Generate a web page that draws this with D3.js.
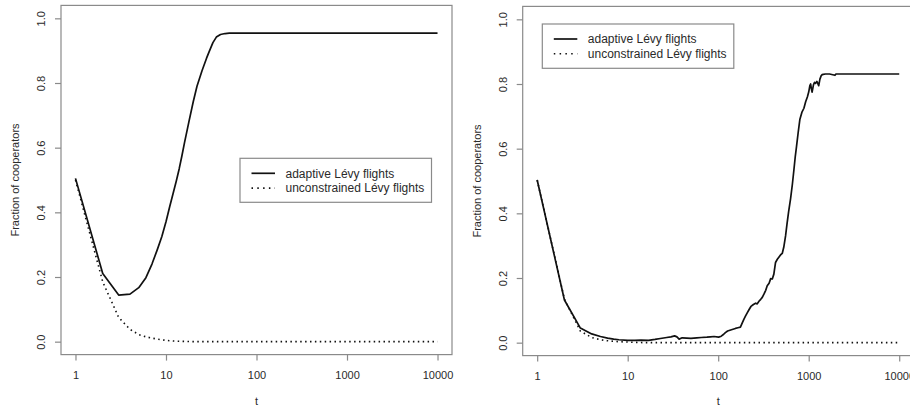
<!DOCTYPE html>
<html>
<head>
<meta charset="utf-8">
<script src="https://cdn.jsdelivr.net/npm/d3@7"></script>
<style>
  html, body { margin: 0; padding: 0; background: #fff; }
  svg { display: block; font-family: "Liberation Sans", Arial, Helvetica, sans-serif; }
</style>
</head>
<body>
<svg id="chart" width="910" height="408"></svg>
<script>
// ---------- data ----------
const xTickValues = [1, 10, 100, 1000, 10000];
const xTickLabels = ["1", "10", "100", "1000", "10000"];
const yTickValues = [0, 0.2, 0.4, 0.6, 0.8, 1.0];
const yTickLabels = ["0.0", "0.2", "0.4", "0.6", "0.8", "1.0"];
const seriesNames = ["adaptive Lévy flights", "unconstrained Lévy flights"];
const xAxisTitle = "t";
const yAxisTitle = "Fraction of cooperators";

// left panel
const leftAdaptiveT = [1, 2, 3, 4, 5, 6, 7, 8, 9, 10, 11, 12, 13, 14, 15, 16, 18, 20, 22, 25, 28, 30, 33, 36, 40, 45, 50, 100, 1000, 10000];
const leftAdaptiveY = [0.505, 0.211, 0.144, 0.147, 0.167, 0.198, 0.240, 0.284, 0.325, 0.371, 0.418, 0.459, 0.497, 0.535, 0.575, 0.615, 0.683, 0.742, 0.790, 0.838, 0.876, 0.897, 0.925, 0.942, 0.950, 0.953, 0.954, 0.954, 0.954, 0.954];
const leftUnconT = [1, 2, 3, 4, 5, 6, 7, 8, 9, 10, 12, 15, 20, 100, 1000, 10000];
const leftUnconY = [0.500, 0.185, 0.075, 0.038, 0.022, 0.015, 0.011, 0.008, 0.006, 0.004, 0.002, 0.001, 0.000, 0.000, 0.000, 0.000];

// right panel
const rightAdaptiveT = [1, 2, 3, 4, 5, 6, 7, 8, 10, 12, 14, 17, 20, 23, 27, 30, 33, 35, 37, 40, 45, 50, 58, 65, 75, 82, 90, 101, 108, 115, 120, 127, 140, 155, 165, 176, 185, 192, 200, 210, 218, 230, 245, 259, 270, 282, 295, 307, 320, 335, 348, 365, 380, 396, 412, 430, 450, 470, 490, 510, 530, 555, 575, 600, 630, 660, 686, 710, 733, 765, 798, 840, 885, 925, 966, 1000, 1030, 1050, 1070, 1090, 1130, 1160, 1190, 1230, 1290, 1330, 1370, 1410, 1450, 1530, 1700, 1950, 2000, 2500, 5000, 10000];
const rightAdaptiveY = [0.503, 0.132, 0.045, 0.027, 0.019, 0.014, 0.011, 0.009, 0.007, 0.007, 0.008, 0.007, 0.010, 0.013, 0.016, 0.018, 0.021, 0.018, 0.011, 0.015, 0.014, 0.013, 0.015, 0.016, 0.017, 0.018, 0.019, 0.017, 0.020, 0.026, 0.031, 0.036, 0.040, 0.044, 0.046, 0.048, 0.062, 0.072, 0.082, 0.093, 0.101, 0.112, 0.118, 0.122, 0.120, 0.128, 0.134, 0.140, 0.150, 0.162, 0.176, 0.184, 0.198, 0.197, 0.212, 0.248, 0.258, 0.265, 0.272, 0.276, 0.295, 0.330, 0.366, 0.405, 0.445, 0.490, 0.534, 0.575, 0.606, 0.650, 0.690, 0.712, 0.725, 0.745, 0.760, 0.775, 0.795, 0.800, 0.785, 0.775, 0.798, 0.805, 0.802, 0.808, 0.795, 0.815, 0.825, 0.829, 0.830, 0.831, 0.831, 0.827, 0.831, 0.831, 0.831, 0.831];
const rightUnconT = [1, 2, 3, 4, 5, 6, 7, 8, 10, 12, 15, 100, 1000, 10000];
const rightUnconY = [0.503, 0.135, 0.036, 0.016, 0.009, 0.006, 0.004, 0.003, 0.002, 0.001, 0.000, 0.000, 0.000, 0.000];

// ---------- layout ----------
const panels = [
  { left: 61, right: 452, top: 5.4, bottom: 354.6,
    series: [ {t: leftAdaptiveT, y: leftAdaptiveY, dotted: false}, {t: leftUnconT, y: leftUnconY, dotted: true} ],
    legend: { x: 240, y: 158.3, w: 191.5, h: 44 } },
  { left: 522.7, right: 913.7, top: 6.4, bottom: 355.6,
    series: [ {t: rightAdaptiveT, y: rightAdaptiveY, dotted: false}, {t: rightUnconT, y: rightUnconY, dotted: true} ],
    legend: { x: 542.3, y: 24, w: 191.5, h: 44.3 } }
];

const svg = d3.select("#chart");
const boxColor = "#8a8a8a";
const textColor = "#2a2a2a";
const DOT = "1.5,3.4";

panels.forEach(p => {
  const x = d3.scaleLog().domain([Math.pow(10, -0.16), Math.pow(10, 4.16)]).range([p.left, p.right]);
  const y = d3.scaleLinear().domain([-0.04, 1.04]).range([p.bottom, p.top]);
  const g = svg.append("g");

  // box
  g.append("rect").attr("x", p.left).attr("y", p.top)
    .attr("width", p.right - p.left).attr("height", p.bottom - p.top)
    .attr("fill", "none").attr("stroke", boxColor).attr("stroke-width", 1.2);

  // x axis
  const xa = g.append("g").attr("transform", `translate(0,${p.bottom})`)
    .call(d3.axisBottom(x).tickValues(xTickValues).tickFormat((d, i) => xTickLabels[i]).tickSize(6).tickSizeOuter(0));
  xa.select(".domain").remove();
  xa.selectAll(".tick line").attr("stroke", boxColor).attr("stroke-width", 1.2);
  xa.selectAll(".tick text").attr("y", 20.5).attr("dy", "0.35em")
    .attr("fill", textColor).style("font-size", "11px").style("font-family", "'Liberation Sans', Arial, sans-serif");

  // y axis
  const ya = g.append("g").attr("transform", `translate(${p.left},0)`)
    .call(d3.axisLeft(y).tickValues(yTickValues).tickFormat((d, i) => yTickLabels[i]).tickSize(6).tickSizeOuter(0));
  ya.select(".domain").remove();
  ya.selectAll(".tick line").attr("stroke", boxColor).attr("stroke-width", 1.2);
  ya.selectAll(".tick text").attr("x", 0).attr("y", -19.5).attr("dy", "0.35em")
    .attr("transform", "rotate(-90)").attr("text-anchor", "middle")
    .attr("fill", textColor).style("font-size", "11px").style("font-family", "'Liberation Sans', Arial, sans-serif");

  // axis titles
  g.append("text").attr("x", (p.left + p.right) / 2).attr("y", 401.5).attr("dy", "0.35em")
    .attr("text-anchor", "middle").attr("fill", textColor).style("font-size", "11px").text(xAxisTitle);
  g.append("text").attr("transform", `translate(${p.left - 46},${(p.top + p.bottom) / 2}) rotate(-90)`)
    .attr("dy", "0.35em").attr("text-anchor", "middle").attr("fill", textColor).style("font-size", "11px").text(yAxisTitle);

  // lines
  const line = d3.line().x(d => x(d[0])).y(d => y(d[1]));
  p.series.forEach(s => {
    const pts = s.t.map((t, i) => [t, s.y[i]]);
    g.append("path").datum(pts).attr("d", line)
      .attr("fill", "none").attr("stroke", "#111")
      .attr("stroke-width", s.dotted ? 1.6 : 1.7)
      .attr("stroke-linejoin", "round")
      .attr("stroke-dasharray", s.dotted ? DOT : null);
  });

  // legend
  const L = p.legend;
  const lg = g.append("g");
  lg.append("rect").attr("x", L.x).attr("y", L.y).attr("width", L.w).attr("height", L.h)
    .attr("fill", "#fff").attr("stroke", boxColor).attr("stroke-width", 1.2);
  seriesNames.forEach((name, i) => {
    const cy = L.y + 15 + i * 14.8;
    lg.append("line").attr("x1", L.x + 11.5).attr("x2", L.x + 35).attr("y1", cy).attr("y2", cy)
      .attr("stroke", "#111").attr("stroke-width", i === 1 ? 1.6 : 1.7)
      .attr("stroke-dasharray", i === 1 ? "1.5,4.3" : null);
    lg.append("text").attr("x", L.x + 45.5).attr("y", cy).attr("dy", "0.35em")
      .attr("fill", textColor).style("font-size", "12px").text(name);
  });
});
</script>
</body>
</html>
